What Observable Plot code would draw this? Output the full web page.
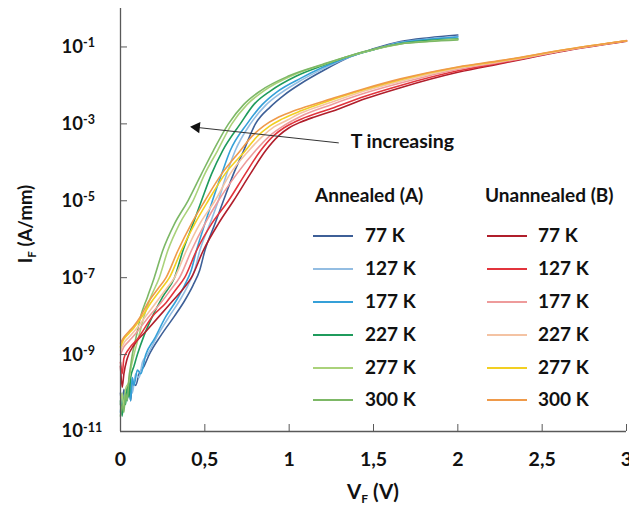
<!DOCTYPE html>
<html><head><meta charset="utf-8">
<script src="https://cdn.jsdelivr.net/npm/d3@7"></script>
<script src="https://cdn.jsdelivr.net/npm/@observablehq/plot@0.6"></script>
<style>
body{margin:0;background:#fff;}
#chart{width:629px;height:512px;}
</style></head><body><div id="chart"></div>
<script>
// ---- data ----
const temps = ["77 K","127 K","177 K","227 K","277 K","300 K"];
const colorsA = ["#3d5f97","#93bde2","#35a0d8","#1f9b5c","#aad27a","#7db866"];
const colorsB = ["#b01e2b","#e2343c","#ee9b9b","#f4c3a3","#f2cf22","#ef9a4a"];
// pairs: [V_F (V), log10 I_F (A/mm)]
const A77  = [[0,-10.0],[0.01,-10.4],[0.02,-9.9],[0.03,-10.2],[0.05,-9.8],[0.06,-10.2],[0.07,-9.7],[0.09,-9.8],[0.11,-9.5],[0.14,-9.3],[0.17,-9.0],[0.24,-8.5],[0.32,-8.0],[0.38,-7.6],[0.43,-7.2],[0.47,-6.8],[0.50,-6.3],[0.56,-5.6],[0.61,-5.0],[0.67,-4.3],[0.73,-3.7],[0.80,-3.0],[0.89,-2.55],[0.97,-2.25],[1.07,-1.95],[1.2,-1.62],[1.365,-1.25],[1.5,-1.05],[1.66,-0.86],[1.83,-0.76],[2.0,-0.69]];
const A127 = [[0,-10.3],[0.01,-10.0],[0.02,-10.3],[0.04,-9.9],[0.05,-10.1],[0.06,-9.6],[0.07,-10.0],[0.09,-9.5],[0.11,-9.6],[0.13,-9.2],[0.16,-9.0],[0.22,-8.5],[0.29,-8.0],[0.35,-7.6],[0.40,-7.2],[0.44,-6.8],[0.47,-6.3],[0.53,-5.6],[0.58,-5.0],[0.63,-4.3],[0.68,-3.7],[0.77,-3.0],[0.86,-2.52],[0.95,-2.2],[1.07,-1.87],[1.2,-1.57],[1.365,-1.25],[1.5,-1.07],[1.66,-0.88],[1.83,-0.79],[2.0,-0.73]];
const A177 = [[0,-10.5],[0.01,-10.1],[0.02,-10.4],[0.03,-9.9],[0.04,-10.2],[0.05,-9.7],[0.06,-10.2],[0.07,-9.6],[0.08,-9.8],[0.10,-9.4],[0.12,-9.5],[0.15,-9.0],[0.20,-8.6],[0.27,-8.0],[0.33,-7.6],[0.38,-7.2],[0.42,-6.8],[0.45,-6.3],[0.50,-5.6],[0.545,-5.0],[0.60,-4.3],[0.65,-3.7],[0.75,-3.0],[0.84,-2.5],[0.93,-2.16],[1.07,-1.81],[1.2,-1.53],[1.365,-1.24],[1.5,-1.07],[1.66,-0.89],[1.83,-0.8],[2.0,-0.74]];
const A227 = [[0,-10.2],[0.01,-10.6],[0.02,-10.1],[0.03,-10.3],[0.04,-9.8],[0.05,-10.1],[0.06,-9.6],[0.08,-9.3],[0.10,-9.0],[0.14,-8.5],[0.19,-8.0],[0.25,-7.5],[0.32,-7.0],[0.37,-6.3],[0.43,-5.6],[0.48,-5.0],[0.54,-4.3],[0.605,-3.7],[0.71,-3.0],[0.79,-2.5],[0.89,-2.14],[1.04,-1.76],[1.2,-1.48],[1.365,-1.23],[1.5,-1.07],[1.66,-0.91],[1.83,-0.83],[2.0,-0.79]];
const A277 = [[0,-10.3],[0.01,-10.0],[0.02,-10.4],[0.03,-9.9],[0.05,-9.7],[0.06,-9.4],[0.08,-9.0],[0.11,-8.5],[0.14,-8.0],[0.18,-7.5],[0.23,-7.0],[0.28,-6.3],[0.35,-5.6],[0.43,-5.0],[0.50,-4.3],[0.575,-3.7],[0.66,-3.0],[0.75,-2.5],[0.85,-2.14],[1.02,-1.74],[1.2,-1.46],[1.365,-1.23],[1.5,-1.07],[1.66,-0.92],[1.83,-0.85],[2.0,-0.80]];
const A300 = [[0,-10.6],[0.01,-10.3],[0.02,-10.5],[0.03,-10.0],[0.04,-10.2],[0.05,-9.6],[0.06,-9.3],[0.07,-9.0],[0.09,-8.6],[0.12,-8.0],[0.16,-7.5],[0.20,-7.0],[0.25,-6.3],[0.32,-5.6],[0.40,-5.0],[0.48,-4.3],[0.55,-3.7],[0.64,-3.0],[0.73,-2.5],[0.83,-2.14],[1.0,-1.75],[1.2,-1.45],[1.365,-1.22],[1.5,-1.06],[1.66,-0.92],[1.83,-0.86],[2.0,-0.82]];
const B77  = [[0,-9.3],[0.01,-9.85],[0.02,-9.5],[0.04,-9.1],[0.08,-8.75],[0.15,-8.4],[0.23,-8.0],[0.31,-7.6],[0.37,-7.3],[0.42,-7.0],[0.49,-6.3],[0.58,-5.6],[0.67,-5.0],[0.77,-4.3],[0.86,-3.7],[0.94,-3.3],[1.0,-3.1],[1.07,-2.95],[1.15,-2.82],[1.25,-2.68],[1.45,-2.35],[1.66,-2.06],[2.0,-1.66],[2.26,-1.43],[2.65,-1.09],[3.0,-0.85]];
const B127 = [[0,-9.2],[0.01,-9.5],[0.02,-9.1],[0.05,-8.85],[0.10,-8.6],[0.19,-8.0],[0.27,-7.65],[0.33,-7.3],[0.38,-7.0],[0.45,-6.3],[0.54,-5.6],[0.64,-5.0],[0.74,-4.3],[0.83,-3.7],[0.91,-3.3],[0.97,-3.1],[1.02,-2.98],[1.07,-2.88],[1.25,-2.6],[1.45,-2.28],[1.66,-2.0],[2.0,-1.62],[2.26,-1.41],[2.65,-1.08],[3.0,-0.84]];
const B177 = [[0,-9.0],[0.02,-8.8],[0.05,-8.65],[0.10,-8.4],[0.17,-8.0],[0.24,-7.65],[0.30,-7.3],[0.35,-7.0],[0.42,-6.3],[0.50,-5.6],[0.58,-5.0],[0.69,-4.3],[0.80,-3.7],[0.88,-3.33],[0.95,-3.1],[1.01,-2.94],[1.07,-2.8],[1.25,-2.5],[1.45,-2.2],[1.66,-1.94],[2.0,-1.58],[2.26,-1.39],[2.65,-1.08],[3.0,-0.83]];
const B227 = [[0,-8.9],[0.02,-8.7],[0.05,-8.55],[0.09,-8.35],[0.15,-8.0],[0.21,-7.65],[0.27,-7.3],[0.32,-7.0],[0.39,-6.3],[0.47,-5.6],[0.56,-5.0],[0.65,-4.3],[0.76,-3.7],[0.84,-3.33],[0.91,-3.08],[0.99,-2.9],[1.07,-2.72],[1.25,-2.44],[1.45,-2.14],[1.66,-1.89],[2.0,-1.55],[2.26,-1.37],[2.65,-1.07],[3.0,-0.84]];
const B277 = [[0,-8.8],[0.02,-8.6],[0.05,-8.45],[0.08,-8.3],[0.13,-8.0],[0.18,-7.65],[0.24,-7.3],[0.29,-7.0],[0.36,-6.3],[0.44,-5.6],[0.52,-5.0],[0.62,-4.3],[0.74,-3.7],[0.81,-3.33],[0.88,-3.07],[0.96,-2.87],[1.07,-2.66],[1.25,-2.38],[1.45,-2.1],[1.66,-1.85],[2.0,-1.53],[2.26,-1.36],[2.65,-1.06],[3.0,-0.84]];
const B300 = [[0,-8.7],[0.02,-8.55],[0.05,-8.4],[0.08,-8.25],[0.12,-8.0],[0.17,-7.6],[0.22,-7.3],[0.27,-7.0],[0.34,-6.3],[0.42,-5.6],[0.50,-5.0],[0.60,-4.3],[0.71,-3.7],[0.78,-3.32],[0.85,-3.05],[0.93,-2.84],[1.0,-2.71],[1.07,-2.6],[1.25,-2.35],[1.45,-2.08],[1.66,-1.83],[2.0,-1.52],[2.26,-1.35],[2.65,-1.06],[3.0,-0.84]];
const seriesA = [A77,A127,A177,A227,A277,A300];
const seriesB = [B77,B127,B177,B227,B277,B300];
const xTicks = [0,0.5,1,1.5,2,2.5,3];
const xTickLabels = ["0","0,5","1","1,5","2","2,5","3"];
const yTicks = [1e-1,1e-3,1e-5,1e-7,1e-9,1e-11];
const yTickExps = ["-1","-3","-5","-7","-9","-11"];
const legendTitles = ["Annealed (A)","Unannealed (B)"];
const arrowTail = [1.294, 3.2e-4];
const arrowTip = [0.451, 8.1e-4];
const noteText = "T increasing";
const notePos = [1.365, 3.4e-4];

// ---- build table ----
const rows = [];
seriesA.forEach((s,i)=>s.forEach(([v,e])=>rows.push({V:v,I:10**e,key:"A"+i})));
seriesB.forEach((s,i)=>s.forEach(([v,e])=>rows.push({V:v,I:10**e,key:"B"+i})));
const keys = [...temps.map((_,i)=>"A"+i), ...temps.map((_,i)=>"B"+i)];
const cols = [...colorsA, ...colorsB];
const xLab = new Map(xTicks.map((t,i)=>[t,xTickLabels[i]]));
const yLab = new Map(yTicks.map((t,i)=>[t,"10^"+yTickExps[i]]));
const FONT = "Lato, 'Open Sans', sans-serif";
const AX = "#595959";

const plot = Plot.plot({
  width:629, height:512,
  marginLeft:120, marginRight:3, marginTop:8, marginBottom:81,
  style:{fontFamily:FONT, background:"white", color:"#111"},
  x:{domain:[0,3]},
  y:{type:"log", domain:[1e-11,1]},
  color:{domain:keys, range:cols},
  marks:[
    Plot.line(rows,{x:"V", y:"I", z:"key", stroke:"key", strokeWidth:1.6, curve:"monotone-x"}),
    Plot.ruleX([0],{stroke:AX, strokeWidth:1.3}),
    Plot.ruleY([1e-11],{stroke:AX, strokeWidth:1.3}),
    Plot.axisX({ticks:xTicks, tickSize:-7, text:null, label:null, stroke:AX}),
    Plot.axisX({ticks:xTicks, tickSize:0, tickPadding:21, tickFormat:d=>xLab.get(d), label:null, fontSize:19.5, fontWeight:"bold"}),
    Plot.axisY({ticks:yTicks, tickSize:-7, text:null, label:null, stroke:AX}),
    Plot.axisY({ticks:yTicks, tickSize:0, tickPadding:59, textAnchor:"start", tickFormat:d=>yLab.get(d), label:null, fontSize:18.5, fontWeight:"bold"}),
    Plot.link([0],{x1:()=>arrowTail[0], y1:()=>arrowTail[1], x2:()=>arrowTip[0], y2:()=>arrowTip[1], stroke:"#333", strokeWidth:1}),
    Plot.dot([0],{x:()=>arrowTip[0], y:()=>arrowTip[1], symbol:"triangle", r:4.2, fill:"#111", stroke:"none", rotate:-84}),
    Plot.text([noteText],{x:()=>notePos[0], y:()=>notePos[1], text:d=>d, textAnchor:"start", fontSize:19.5, fontWeight:"bold", fill:"#111"})
  ]
});
document.getElementById("chart").appendChild(plot);

// superscript y tick labels
const svg = d3.select(plot);
svg.selectAll('g[aria-label="y-axis tick label"] text').each(function(){
  const t = d3.select(this);
  const s = t.text();
  if (!s.includes("^")) return;
  const [b, e] = s.split("^");
  t.text(null);
  t.append("tspan").text(b);
  t.append("tspan").attr("dy","-0.45em").attr("font-size","12.5").text(e);
});

// axis titles
const title = svg.append("g").attr("font-family",FONT).attr("font-weight","bold").attr("fill","#111");
const xt = title.append("text").attr("x",373).attr("y",499).attr("text-anchor","middle").attr("font-size",20.5);
xt.append("tspan").text("V");
xt.append("tspan").attr("font-size",12).attr("dy",4).text("F");
xt.append("tspan").attr("dy",-4).text(" (V)");
const yt = title.append("text").attr("transform","translate(32,224) rotate(-90)").attr("text-anchor","middle").attr("font-size",18.5);
yt.append("tspan").text("I");
yt.append("tspan").attr("font-size",11.5).attr("dy",4).text("F");
yt.append("tspan").attr("dy",-4).text(" (A/mm)");

// legend
const lg = svg.append("g").attr("font-family",FONT).attr("font-weight","bold").attr("font-size",19).attr("fill","#111").attr("text-anchor","start");
const colX = [[315,313,365],[485,487,538]];
const rowY = [235,268,301,334,367,399];
[colorsA,colorsB].forEach((cset,c)=>{
  lg.append("text").attr("x",colX[c][0]).attr("y",195).attr("dy","0.35em").text(legendTitles[c]);
  temps.forEach((tname,i)=>{
    lg.append("line").attr("x1",colX[c][1]).attr("x2",colX[c][1]+40).attr("y1",rowY[i]+1).attr("y2",rowY[i]+1).attr("stroke",cset[i]).attr("stroke-width",2);
    lg.append("text").attr("x",colX[c][2]).attr("y",rowY[i]).attr("dy","0.35em").text(tname);
  });
});
</script></body></html>
